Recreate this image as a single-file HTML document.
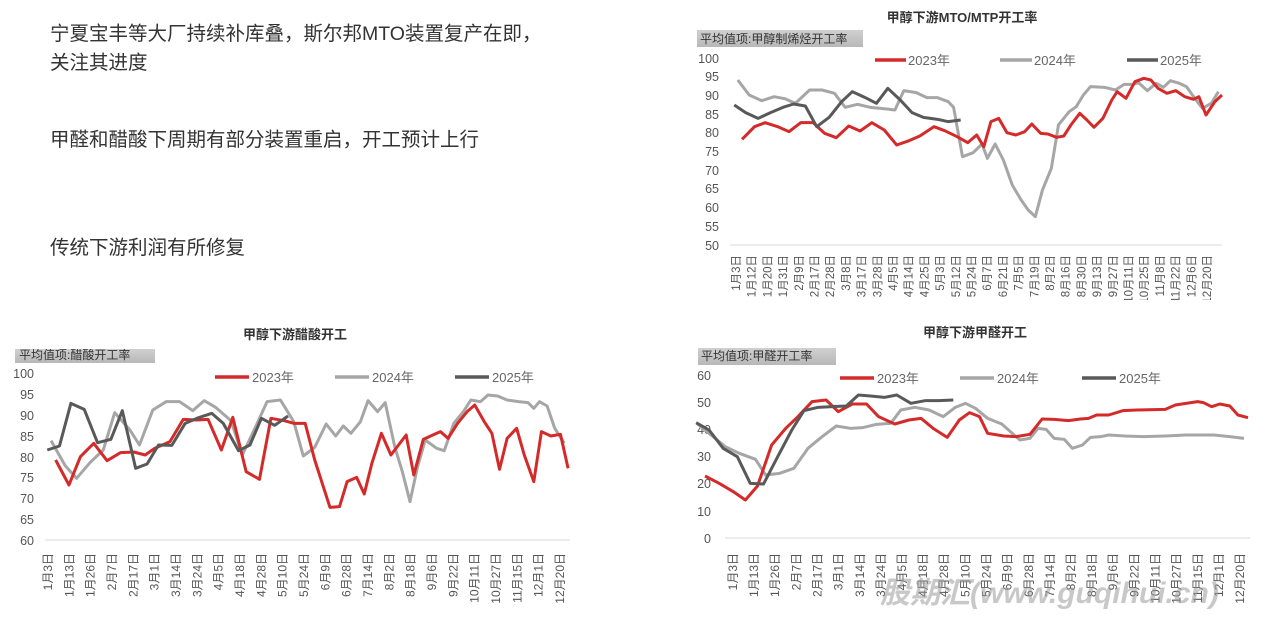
<!DOCTYPE html>
<html><head><meta charset="utf-8"><style>
html,body{margin:0;padding:0;background:#fff;width:1278px;height:620px;overflow:hidden}
svg{display:block}
text{font-family:"Liberation Sans","Noto Sans CJK SC",sans-serif}
</style></head><body>
<svg width="1278" height="620" viewBox="0 0 1278 620" xmlns="http://www.w3.org/2000/svg">
<defs>
<linearGradient id="lb" x1="0" y1="0" x2="0" y2="1"><stop offset="0" stop-color="#d0d0d0"/><stop offset="1" stop-color="#b8b8b8"/></linearGradient>
<clipPath id="c1"><rect x="680" y="248" width="560" height="52"/></clipPath>
<clipPath id="c2"><rect x="0" y="545" width="600" height="75"/></clipPath>
<clipPath id="c3"><rect x="680" y="545" width="598" height="75"/></clipPath>
<clipPath id="cl2"><rect x="15" y="349" width="140" height="14"/></clipPath>
</defs>
<g font-size="19.5" fill="#333">
<text x="50" y="40">宁夏宝丰等大厂持续补库叠，斯尔邦MTO装置复产在即，</text>
<text x="50" y="69">关注其进度</text>
<text x="50" y="146">甲醛和醋酸下周期有部分装置重启，开工预计上行</text>
<text x="50" y="254">传统下游利润有所修复</text>
</g>

<!-- Chart 1 -->
<text x="962" y="22" font-size="13" font-weight="bold" text-anchor="middle" fill="#333">甲醇下游MTO/MTP开工率</text>
<rect x="697" y="30" width="166" height="17" fill="url(#lb)"/>
<text x="700" y="43" font-size="12" fill="#333">平均值项:甲醇制烯烃开工率</text>
<g font-size="12.5" fill="#555" text-anchor="end">
<text x="719" y="63">100</text><text x="719" y="81">95</text><text x="719" y="100">90</text><text x="719" y="119">85</text><text x="719" y="137">80</text><text x="719" y="156">75</text><text x="719" y="175">70</text><text x="719" y="193">65</text><text x="719" y="212">60</text><text x="719" y="231">55</text><text x="719" y="250">50</text>
</g>
<line x1="730" y1="245" x2="1222" y2="245" stroke="#d9d9d9" stroke-width="1"/>
<g font-size="11.5" fill="#555" text-anchor="end" clip-path="url(#c1)">
<text transform="translate(737,255) rotate(-90)" dominant-baseline="central">1月3日</text>
<text transform="translate(752.7,255) rotate(-90)" dominant-baseline="central">1月12日</text>
<text transform="translate(768.4,255) rotate(-90)" dominant-baseline="central">1月20日</text>
<text transform="translate(784.1,255) rotate(-90)" dominant-baseline="central">1月31日</text>
<text transform="translate(799.8,255) rotate(-90)" dominant-baseline="central">2月9日</text>
<text transform="translate(815.5,255) rotate(-90)" dominant-baseline="central">2月17日</text>
<text transform="translate(831.2,255) rotate(-90)" dominant-baseline="central">2月28日</text>
<text transform="translate(846.9,255) rotate(-90)" dominant-baseline="central">3月8日</text>
<text transform="translate(862.6,255) rotate(-90)" dominant-baseline="central">3月17日</text>
<text transform="translate(878.3,255) rotate(-90)" dominant-baseline="central">3月28日</text>
<text transform="translate(894,255) rotate(-90)" dominant-baseline="central">4月5日</text>
<text transform="translate(909.7,255) rotate(-90)" dominant-baseline="central">4月14日</text>
<text transform="translate(925.4,255) rotate(-90)" dominant-baseline="central">4月25日</text>
<text transform="translate(941.1,255) rotate(-90)" dominant-baseline="central">5月3日</text>
<text transform="translate(956.8,255) rotate(-90)" dominant-baseline="central">5月12日</text>
<text transform="translate(972.5,255) rotate(-90)" dominant-baseline="central">5月24日</text>
<text transform="translate(988.2,255) rotate(-90)" dominant-baseline="central">6月7日</text>
<text transform="translate(1003.9,255) rotate(-90)" dominant-baseline="central">6月21日</text>
<text transform="translate(1019.6,255) rotate(-90)" dominant-baseline="central">7月5日</text>
<text transform="translate(1035.3,255) rotate(-90)" dominant-baseline="central">7月19日</text>
<text transform="translate(1051,255) rotate(-90)" dominant-baseline="central">8月2日</text>
<text transform="translate(1066.7,255) rotate(-90)" dominant-baseline="central">8月16日</text>
<text transform="translate(1082.4,255) rotate(-90)" dominant-baseline="central">8月30日</text>
<text transform="translate(1098.1,255) rotate(-90)" dominant-baseline="central">9月13日</text>
<text transform="translate(1113.8,255) rotate(-90)" dominant-baseline="central">9月27日</text>
<text transform="translate(1129.5,255) rotate(-90)" dominant-baseline="central">10月11日</text>
<text transform="translate(1145.2,255) rotate(-90)" dominant-baseline="central">10月25日</text>
<text transform="translate(1160.9,255) rotate(-90)" dominant-baseline="central">11月8日</text>
<text transform="translate(1176.6,255) rotate(-90)" dominant-baseline="central">11月22日</text>
<text transform="translate(1192.3,255) rotate(-90)" dominant-baseline="central">12月6日</text>
<text transform="translate(1208,255) rotate(-90)" dominant-baseline="central">12月20日</text>
</g>
<g font-size="13" fill="#666">
<line x1="875" y1="60" x2="906" y2="60" stroke="#d42a2a" stroke-width="3.5"/><text x="908" y="65">2023年</text>
<line x1="1000" y1="60" x2="1032" y2="60" stroke="#a6a6a6" stroke-width="3.5"/><text x="1034" y="65">2024年</text>
<line x1="1127" y1="60" x2="1158" y2="60" stroke="#595959" stroke-width="3.5"/><text x="1160" y="65">2025年</text>
</g>
<g transform="translate(692.3,0) scale(0.3555,0.33333)" fill="none" stroke-linejoin="round">
<polyline vector-effect="non-scaling-stroke" stroke="#a6a6a6" stroke-width="3" points="128,240 160,285 195,302 230,290 260,296 290,310 330,270 365,270 400,280 430,322 465,313 500,322 530,325 570,330 595,272 630,278 660,293 690,293 720,305 735,322 760,470 790,458 815,432 830,475 852,432 875,480 900,555 925,600 945,630 965,650 985,570 1010,505 1030,375 1060,335 1080,320 1100,285 1120,260 1160,262 1190,270 1215,253 1240,253 1255,248 1280,272 1305,250 1325,262 1345,242 1370,250 1390,260 1410,290 1435,325 1460,310 1480,275"/>
<polyline vector-effect="non-scaling-stroke" stroke="#d42a2a" stroke-width="3" points="140,418 175,380 205,368 240,380 272,395 305,368 340,368 372,400 405,413 440,378 472,393 505,368 540,390 575,435 610,422 640,408 680,380 710,392 745,410 775,428 800,405 820,440 840,365 862,355 885,398 910,405 935,395 955,372 980,400 1000,402 1025,412 1045,408 1065,375 1090,340 1110,360 1130,382 1155,355 1180,300 1195,275 1220,295 1245,245 1270,235 1290,240 1310,265 1335,280 1360,272 1385,290 1410,298 1425,290 1445,345 1470,305 1490,285"/>
<polyline vector-effect="non-scaling-stroke" stroke="#595959" stroke-width="3" points="118,315 150,338 185,355 220,338 255,322 285,312 318,318 350,380 385,352 420,305 450,275 485,292 518,310 550,265 585,300 618,338 650,352 690,358 720,365 755,360"/>
</g>

<!-- Chart 2 -->
<text x="295" y="339" font-size="13" font-weight="bold" text-anchor="middle" fill="#333">甲醇下游醋酸开工</text>
<rect x="15" y="349" width="140" height="14" fill="url(#lb)"/>
<text x="19" y="359" font-size="12" fill="#333" clip-path="url(#cl2)">平均值项:醋酸开工率</text>
<g font-size="12.5" fill="#555" text-anchor="end">
<text x="34" y="378">100</text><text x="34" y="399">95</text><text x="34" y="420">90</text><text x="34" y="441">85</text><text x="34" y="462">80</text><text x="34" y="482">75</text><text x="34" y="503">70</text><text x="34" y="524">65</text><text x="34" y="545">60</text>
</g>
<line x1="45" y1="540" x2="570" y2="540" stroke="#d9d9d9" stroke-width="1"/>
<g font-size="12" fill="#555" text-anchor="end" clip-path="url(#c2)">
<text transform="translate(48,553) rotate(-90)" dominant-baseline="central">1月3日</text>
<text transform="translate(69.3,553) rotate(-90)" dominant-baseline="central">1月13日</text>
<text transform="translate(90.7,553) rotate(-90)" dominant-baseline="central">1月26日</text>
<text transform="translate(112,553) rotate(-90)" dominant-baseline="central">2月7日</text>
<text transform="translate(133.3,553) rotate(-90)" dominant-baseline="central">2月17日</text>
<text transform="translate(154.7,553) rotate(-90)" dominant-baseline="central">3月1日</text>
<text transform="translate(176,553) rotate(-90)" dominant-baseline="central">3月14日</text>
<text transform="translate(197.3,553) rotate(-90)" dominant-baseline="central">3月24日</text>
<text transform="translate(218.7,553) rotate(-90)" dominant-baseline="central">4月5日</text>
<text transform="translate(240,553) rotate(-90)" dominant-baseline="central">4月18日</text>
<text transform="translate(261.3,553) rotate(-90)" dominant-baseline="central">4月28日</text>
<text transform="translate(282.7,553) rotate(-90)" dominant-baseline="central">5月10日</text>
<text transform="translate(304,553) rotate(-90)" dominant-baseline="central">5月24日</text>
<text transform="translate(325.3,553) rotate(-90)" dominant-baseline="central">6月9日</text>
<text transform="translate(346.7,553) rotate(-90)" dominant-baseline="central">6月28日</text>
<text transform="translate(368,553) rotate(-90)" dominant-baseline="central">7月14日</text>
<text transform="translate(389.3,553) rotate(-90)" dominant-baseline="central">8月2日</text>
<text transform="translate(410.7,553) rotate(-90)" dominant-baseline="central">8月18日</text>
<text transform="translate(432,553) rotate(-90)" dominant-baseline="central">9月6日</text>
<text transform="translate(453.3,553) rotate(-90)" dominant-baseline="central">9月22日</text>
<text transform="translate(474.7,553) rotate(-90)" dominant-baseline="central">10月11日</text>
<text transform="translate(496,553) rotate(-90)" dominant-baseline="central">10月27日</text>
<text transform="translate(517.3,553) rotate(-90)" dominant-baseline="central">11月15日</text>
<text transform="translate(538.7,553) rotate(-90)" dominant-baseline="central">12月1日</text>
<text transform="translate(560,553) rotate(-90)" dominant-baseline="central">12月20日</text>
</g>
<g font-size="13" fill="#666">
<line x1="215" y1="377" x2="249" y2="377" stroke="#d42a2a" stroke-width="3.5"/><text x="252" y="382">2023年</text>
<line x1="335" y1="377" x2="369" y2="377" stroke="#a6a6a6" stroke-width="3.5"/><text x="372" y="382">2024年</text>
<line x1="455" y1="377" x2="489" y2="377" stroke="#595959" stroke-width="3.5"/><text x="492" y="382">2025年</text>
</g>
<g transform="translate(2.3,320) scale(0.381,0.33333)" fill="none" stroke-linejoin="round">
<polyline vector-effect="non-scaling-stroke" stroke="#a6a6a6" stroke-width="3" points="128,362 165,437 195,475 230,428 265,390 295,278 335,330 360,375 395,270 430,245 465,245 500,272 530,242 560,262 600,302 630,405 665,320 695,245 730,240 765,305 790,408 820,382 850,312 875,348 895,318 915,340 940,305 960,242 985,275 1005,248 1030,380 1050,455 1070,545 1090,440 1110,360 1140,385 1160,392 1185,310 1210,275 1230,240 1255,245 1275,225 1300,228 1325,240 1355,245 1380,248 1395,265 1410,245 1430,258 1450,325 1475,370"/>
<polyline vector-effect="non-scaling-stroke" stroke="#d42a2a" stroke-width="3" points="140,420 175,495 205,410 240,370 275,422 310,398 345,396 375,405 400,385 440,365 475,298 510,300 540,298 575,390 605,292 640,455 675,478 705,295 740,302 765,310 795,310 820,420 860,562 885,560 905,485 930,472 950,522 970,430 995,340 1020,405 1060,345 1080,465 1105,358 1130,345 1150,335 1170,355 1195,310 1220,275 1240,255 1265,305 1285,340 1305,448 1325,355 1350,325 1370,405 1395,485 1415,335 1440,348 1465,343 1485,445"/>
<polyline vector-effect="non-scaling-stroke" stroke="#595959" stroke-width="3" points="118,390 150,378 180,250 215,268 250,368 285,358 315,272 350,445 380,432 410,375 445,376 480,310 515,293 550,280 580,310 620,392 650,375 680,295 715,316 750,288"/>
</g>

<!-- Chart 3 -->
<text x="975" y="337" font-size="13" font-weight="bold" text-anchor="middle" fill="#333">甲醇下游甲醛开工</text>
<rect x="698" y="348" width="138" height="17" fill="url(#lb)"/>
<text x="701" y="360" font-size="12" fill="#333">平均值项:甲醛开工率</text>
<g font-size="12.5" fill="#555" text-anchor="end">
<text x="711" y="380">60</text><text x="711" y="407">50</text><text x="711" y="434">40</text><text x="711" y="461">30</text><text x="711" y="488">20</text><text x="711" y="516">10</text><text x="711" y="543">0</text>
</g>
<line x1="725" y1="538" x2="1250" y2="538" stroke="#d9d9d9" stroke-width="1"/>
<g font-size="12" fill="#555" text-anchor="end" clip-path="url(#c3)">
<text transform="translate(733,553) rotate(-90)" dominant-baseline="central">1月3日</text>
<text transform="translate(754.1,553) rotate(-90)" dominant-baseline="central">1月13日</text>
<text transform="translate(775.2,553) rotate(-90)" dominant-baseline="central">1月26日</text>
<text transform="translate(796.4,553) rotate(-90)" dominant-baseline="central">2月7日</text>
<text transform="translate(817.5,553) rotate(-90)" dominant-baseline="central">2月17日</text>
<text transform="translate(838.6,553) rotate(-90)" dominant-baseline="central">3月1日</text>
<text transform="translate(859.8,553) rotate(-90)" dominant-baseline="central">3月14日</text>
<text transform="translate(880.9,553) rotate(-90)" dominant-baseline="central">3月24日</text>
<text transform="translate(902,553) rotate(-90)" dominant-baseline="central">4月5日</text>
<text transform="translate(923.1,553) rotate(-90)" dominant-baseline="central">4月18日</text>
<text transform="translate(944.2,553) rotate(-90)" dominant-baseline="central">4月28日</text>
<text transform="translate(965.4,553) rotate(-90)" dominant-baseline="central">5月10日</text>
<text transform="translate(986.5,553) rotate(-90)" dominant-baseline="central">5月24日</text>
<text transform="translate(1007.6,553) rotate(-90)" dominant-baseline="central">6月9日</text>
<text transform="translate(1028.8,553) rotate(-90)" dominant-baseline="central">6月28日</text>
<text transform="translate(1049.9,553) rotate(-90)" dominant-baseline="central">7月14日</text>
<text transform="translate(1071,553) rotate(-90)" dominant-baseline="central">8月2日</text>
<text transform="translate(1092.1,553) rotate(-90)" dominant-baseline="central">8月18日</text>
<text transform="translate(1113.2,553) rotate(-90)" dominant-baseline="central">9月6日</text>
<text transform="translate(1134.4,553) rotate(-90)" dominant-baseline="central">9月22日</text>
<text transform="translate(1155.5,553) rotate(-90)" dominant-baseline="central">10月11日</text>
<text transform="translate(1176.6,553) rotate(-90)" dominant-baseline="central">10月27日</text>
<text transform="translate(1197.8,553) rotate(-90)" dominant-baseline="central">11月15日</text>
<text transform="translate(1218.9,553) rotate(-90)" dominant-baseline="central">12月1日</text>
<text transform="translate(1240,553) rotate(-90)" dominant-baseline="central">12月20日</text>
</g>
<g font-size="13" fill="#666">
<line x1="840" y1="378" x2="874" y2="378" stroke="#d42a2a" stroke-width="3.5"/><text x="877" y="383">2023年</text>
<line x1="960" y1="378" x2="994" y2="378" stroke="#a6a6a6" stroke-width="3.5"/><text x="997" y="383">2024年</text>
<line x1="1082" y1="378" x2="1116" y2="378" stroke="#595959" stroke-width="3.5"/><text x="1119" y="383">2025年</text>
</g>
<g transform="translate(648.5,320) scale(0.4037,0.33333)" fill="none" stroke-linejoin="round">
<polyline vector-effect="non-scaling-stroke" stroke="#a6a6a6" stroke-width="3" points="120,310 150,340 190,380 225,400 265,418 290,465 325,460 360,445 395,385 430,350 465,318 500,325 530,323 565,313 600,310 625,270 660,262 695,270 730,290 760,262 785,250 810,265 840,295 875,312 920,360 945,355 965,325 985,328 1005,355 1030,358 1050,385 1075,375 1095,352 1120,350 1140,345 1180,348 1225,350 1280,348 1330,345 1400,345 1440,350 1475,355"/>
<polyline vector-effect="non-scaling-stroke" stroke="#d42a2a" stroke-width="3" points="140,468 175,490 210,515 240,540 270,498 305,375 340,325 370,290 405,245 440,240 470,275 505,252 540,252 570,290 610,312 645,300 675,295 705,325 740,352 770,300 795,278 820,290 840,340 880,348 910,350 945,343 975,297 1005,298 1040,302 1070,297 1090,295 1110,285 1140,285 1175,272 1210,270 1280,268 1305,255 1360,245 1375,248 1395,260 1415,252 1440,258 1460,285 1485,293"/>
<polyline vector-effect="non-scaling-stroke" stroke="#595959" stroke-width="3" points="118,308 150,330 185,385 220,410 252,490 285,492 320,410 355,330 385,272 420,262 455,260 490,258 520,225 550,228 585,232 615,225 650,250 685,242 720,242 755,240"/>
</g>

<text x="880" y="603" font-size="30" font-weight="bold" font-style="italic" fill="#9a9a9a" fill-opacity="0.55">股期汇(www.guqihui.cn)</text>
</svg>
</body></html>
